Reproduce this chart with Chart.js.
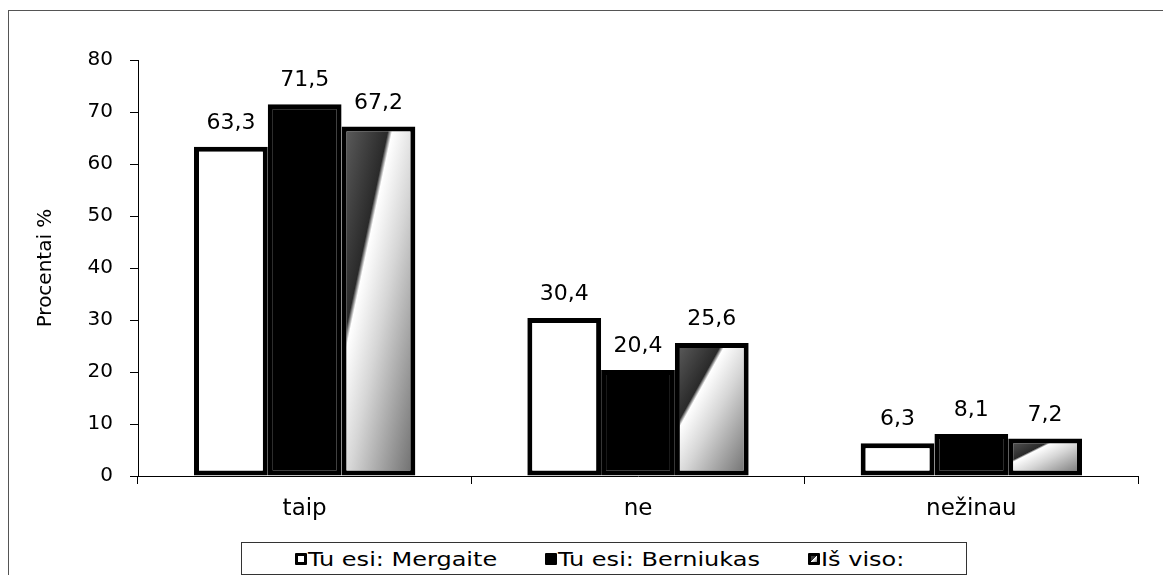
<!DOCTYPE html>
<html>
<head>
<meta charset="utf-8">
<script src="https://cdn.jsdelivr.net/npm/chart.js@4/dist/chart.umd.min.js"></script>
<style>
    html, body { margin: 0; padding: 0; background: #fff; }
    body { width: 1163px; height: 575px; position: relative; overflow: hidden; font-family: "DejaVu Sans", sans-serif; }
    .frame { position: absolute; left: 8px; top: 10px; width: 1200px; height: 600px; border: 1px solid #555; }
    #chartWrap { position: absolute; left: 0; top: 0; width: 1163px; height: 575px; }
    .legend-box { position: absolute; left: 241px; top: 542px; width: 724px; height: 31px; border: 1px solid #333; background: #fff; overflow: hidden; }
    .legend-box ul { list-style: none; margin: 0; padding: 0 0 0 53px; display: flex; align-items: center; height: 31px; white-space: nowrap; }
    .legend-box li { display: flex; align-items: center; font-size: 20px; color: #000; margin-right: 48px; }
    .legend-box .mark { width: 6px; height: 6px; border: 3px solid #000; border-radius: 1px; margin-right: 1px; flex: none; }
    .legend-box .txt { display: inline-block; overflow: visible; }
    .legend-box .txt span { display: inline-block; transform-origin: 0 50%; }
</style>
</head>
<body>
<div class="frame"></div>
<div id="chartWrap"><canvas id="surveyChart"></canvas></div>
<div class="legend-box" id="legendBox"></div>

<script>
// data
const categories = ['taip', 'ne', 'nežinau'];
const seriesNames = ['Tu esi: Mergaite', 'Tu esi: Berniukas', 'Iš viso:'];
const girls = [63.3, 30.4, 6.3];
const boys = [71.5, 20.4, 8.1];
const total = [67.2, 25.6, 7.2];
const yTicks = [0, 10, 20, 30, 40, 50, 60, 70, 80];

const CAT_PCT = 0.664;
const FONT = '"DejaVu Sans", sans-serif';
const LEGEND_STRETCH = 1.2;

// diagonal grey/white shading like the third series in the original
function shadeGradient(ctx, left, top, w, h) {
    const L = Math.sqrt(w * w + h * h);
    const nx = h / L, ny = w / L;
    // white band runs from (left + 0.7w, top) to (left, top + 0.7h)
    const ox = left + 0.7 * w, oy = top;
    const s0 = -0.7 * w * h / L, s1 = 1.3 * w * h / L;
    const g = ctx.createLinearGradient(ox + nx * s0, oy + ny * s0, ox + nx * s1, oy + ny * s1);
    g.addColorStop(0, '#606060');
    g.addColorStop(0.32, '#2a2a2a');
    g.addColorStop(0.35, '#ffffff');
    g.addColorStop(0.55, '#d6d6d6');
    g.addColorStop(1, '#6a6a6a');
    return g;
}

// each bar of the last series gets its own gradient from its real geometry
const shadePlugin = {
    id: 'shadePlugin',
    beforeDatasetsDraw(chart) {
        const meta = chart.getDatasetMeta(2);
        meta.data.forEach(bar => {
            const p = bar.getProps(['x', 'y', 'base', 'width'], true);
            const left = p.x - p.width / 2;
            const top = Math.min(p.y, p.base);
            const h = Math.abs(p.base - p.y);
            if (!(p.width > 0 && h > 0)) return;
            bar.options.backgroundColor = shadeGradient(chart.ctx, left, top, p.width, h);
        });
    }
};

const valueLabels = {
    id: 'valueLabels',
    afterDatasetsDraw(chart) {
        const ctx = chart.ctx;
        ctx.save();
        ctx.font = '22px ' + FONT;
        ctx.fillStyle = '#000';
        ctx.textAlign = 'center';
        ctx.textBaseline = 'alphabetic';
        chart.data.datasets.forEach((ds, i) => {
            chart.getDatasetMeta(i).data.forEach((bar, j) => {
                const txt = ds.data[j].toFixed(1).replace('.', ',');
                ctx.fillText(txt, bar.x, bar.y - 18);
            });
        });
        ctx.restore();
    }
};

const chart = new Chart(document.getElementById('surveyChart'), {
    type: 'bar',
    data: {
        labels: categories,
        datasets: [
            { label: seriesNames[0], data: girls, backgroundColor: '#ffffff' },
            { label: seriesNames[1], data: boys, backgroundColor: '#000000' },
            // scriptable so every bar keeps its own options object
            { label: seriesNames[2], data: total, backgroundColor: () => '#888888' }
        ]
    },
    options: {
        responsive: true,
        maintainAspectRatio: false,
        animation: false,
        events: [],
        layout: { padding: { top: 60, left: 26, right: 25, bottom: 0 } },
        datasets: {
            bar: {
                categoryPercentage: CAT_PCT,
                barPercentage: 1,
                borderColor: '#000',
                borderWidth: 5,
                borderSkipped: false
            }
        },
        plugins: {
            legend: { display: false },
            tooltip: { enabled: false }
        },
        scales: {
            x: {
                grid: { drawOnChartArea: false, tickLength: 8, color: '#000', offset: true },
                border: { color: '#000', width: 1 },
                ticks: { color: '#000', font: { family: FONT, size: 23 }, padding: 11 },
                afterFit: s => { s.height = 99; }
            },
            y: {
                min: 0,
                max: 80,
                afterBuildTicks: s => { s.ticks = yTicks.map(v => ({ value: v })); },
                grid: { drawOnChartArea: false, tickLength: 8, color: '#000' },
                border: { color: '#000', width: 1 },
                ticks: { color: '#000', font: { family: FONT, size: 20 }, padding: 17 },
                title: { display: true, text: 'Procentai %', color: '#000', font: { family: FONT, size: 20 }, padding: { top: 8, bottom: 0 } },
                afterFit: s => { s.width = 112; }
            }
        }
    },
    plugins: [shadePlugin, valueLabels]
});

// html legend built from the chart's datasets, text slightly widened like the original
function buildLegend(ch) {
    const box = document.getElementById('legendBox');
    const ul = document.createElement('ul');
    box.appendChild(ul);
    ch.data.datasets.forEach((ds, i) => {
        const li = document.createElement('li');
        const mark = document.createElement('span');
        mark.className = 'mark';
        if (i === 2) {
            mark.style.background = 'linear-gradient(135deg, #444 0%, #333 45%, #fff 50%, #888 100%)';
        } else {
            mark.style.background = ds.backgroundColor;
        }
        const wrap = document.createElement('span');
        wrap.className = 'txt';
        const inner = document.createElement('span');
        inner.textContent = ds.label;
        wrap.appendChild(inner);
        li.appendChild(mark);
        li.appendChild(wrap);
        ul.appendChild(li);
        const w = inner.getBoundingClientRect().width;
        wrap.style.width = (w * LEGEND_STRETCH) + 'px';
        inner.style.transform = 'scaleX(' + LEGEND_STRETCH + ')';
    });
}
buildLegend(chart);
</script>
</body>
</html>
